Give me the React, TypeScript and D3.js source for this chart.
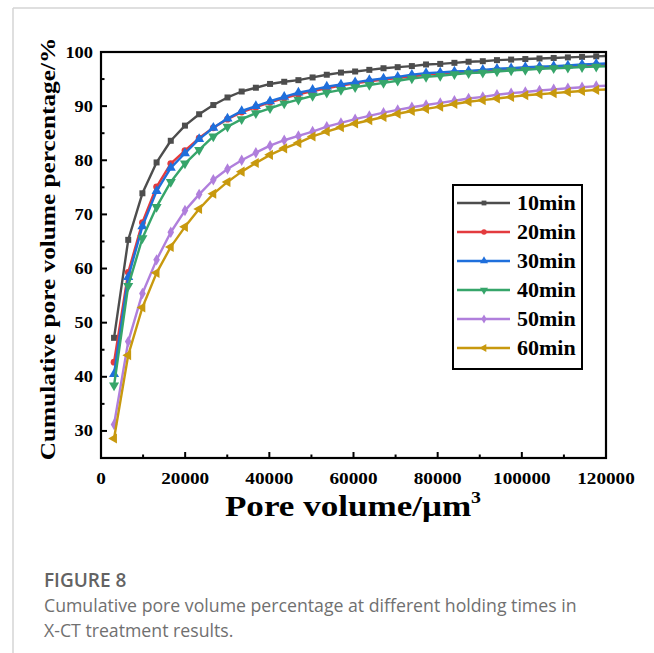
import React from 'react';
import * as d3 from 'd3';

// ---------- data ----------
const poreVolume = [3100, 6470, 9840, 13210, 16580, 19950, 23320, 26690, 30060, 33430, 36800, 40170,
  43540, 46910, 50280, 53650, 57020, 60390, 63760, 67130, 70500, 73870, 77240, 80610, 83980, 87350,
  90720, 94090, 97460, 100830, 104200, 107570, 110940, 114310, 117680, 121050];

const seriesNames = ['10min', '20min', '30min', '40min', '50min', '60min'];

const pct10min = [47.2, 65.3, 73.9, 79.6, 83.6, 86.4, 88.5, 90.2, 91.6, 92.7, 93.4, 94.1, 94.5, 94.8,
  95.3, 95.8, 96.2, 96.4, 96.7, 97.0, 97.2, 97.4, 97.7, 97.8, 98.0, 98.2, 98.3, 98.5, 98.6, 98.7,
  98.8, 98.9, 99.0, 99.1, 99.2, 99.3];
const pct20min = [42.7, 59.3, 68.5, 75.1, 79.4, 81.8, 84.1, 86.0, 87.6, 88.9, 89.8, 90.7, 91.5, 92.2,
  92.8, 93.3, 93.8, 94.2, 94.6, 94.9, 95.2, 95.5, 95.8, 96.0, 96.2, 96.3, 96.5, 96.7, 96.8, 97.0,
  97.1, 97.2, 97.3, 97.5, 97.6, 97.7];
const pct30min = [40.5, 58.4, 67.8, 74.3, 78.6, 81.3, 83.9, 86.0, 87.7, 89.1, 90.0, 90.9, 91.7, 92.5,
  93.0, 93.6, 94.0, 94.4, 94.8, 95.1, 95.4, 95.8, 96.1, 96.2, 96.4, 96.5, 96.7, 96.9, 97.0, 97.2,
  97.3, 97.4, 97.5, 97.7, 97.8, 97.9];
const pct40min = [38.4, 56.8, 65.6, 71.4, 76.0, 79.4, 81.9, 84.4, 86.2, 87.6, 88.7, 89.6, 90.5, 91.2,
  91.9, 92.5, 93.0, 93.5, 93.9, 94.3, 94.7, 95.1, 95.4, 95.6, 95.9, 96.1, 96.2, 96.4, 96.6, 96.7,
  96.9, 97.0, 97.1, 97.2, 97.3, 97.4];
const pct50min = [31.2, 46.5, 55.4, 61.6, 66.7, 70.7, 73.7, 76.4, 78.4, 80.0, 81.4, 82.7, 83.7, 84.5,
  85.3, 86.2, 86.9, 87.6, 88.2, 88.8, 89.3, 89.8, 90.2, 90.6, 91.0, 91.4, 91.7, 92.1, 92.4, 92.6,
  92.9, 93.1, 93.3, 93.5, 93.7, 93.8];
const pct60min = [28.6, 44.0, 52.8, 59.2, 64.0, 67.7, 71.0, 73.8, 76.0, 77.9, 79.5, 81.0, 82.2, 83.2,
  84.4, 85.3, 86.1, 86.8, 87.4, 88.0, 88.6, 89.1, 89.5, 89.9, 90.4, 90.8, 91.1, 91.4, 91.7, 92.0,
  92.2, 92.4, 92.6, 92.8, 93.0, 93.1];

const xTickValues = [0, 20000, 40000, 60000, 80000, 100000, 120000];
const xMinorTicks = [10000, 30000, 50000, 70000, 90000, 110000];
const yTickValues = [30, 40, 50, 60, 70, 80, 90, 100];
const yMinorTicks = [35, 45, 55, 65, 75, 85, 95];

// ---------- styles ----------
const colors = ['#4d4d4d', '#e33b3e', '#1f6fdc', '#36a56a', '#b07fdc', '#c8990e'];
const symbolTypes = [d3.symbolSquare, d3.symbolCircle, d3.symbolTriangle, d3.symbolTriangle, d3.symbolDiamond, d3.symbolTriangle];
const symbolRot = [0, 0, 0, 180, 0, -90];
const symbolSize = [36, 36, 44, 44, 38, 44];

const W = 654, H = 653;
const M = { left: 101, right: 606, top: 52, bottom: 458 };
const SERIF = '"Liberation Serif", "Times New Roman", serif';
const SANS = '"Open Sans", "Noto Sans", sans-serif';

export default function App() {
  const x = d3.scaleLinear().domain([0, 120000]).range([M.left, M.right]);
  const y = d3.scaleLinear().domain([25, 100]).range([M.bottom, M.top]);
  const allSeries = [pct10min, pct20min, pct30min, pct40min, pct50min, pct60min];
  const line = d3.line<number>().x((_, i) => x(poreVolume[i])).y((d) => y(d));

  const sym = (i: number) => d3.symbol().type(symbolTypes[i]).size(symbolSize[i])() as string;

  const legendX = 453, legendY = 185, legendW = 129, legendH = 184;

  return (
    <svg width={W} height={H} style={{ position: 'absolute', left: 0, top: 0, background: '#fff' }}>
      <rect x={0} y={0} width={W} height={H} fill="#fff" />
      {/* card border */}
      <line x1={13} y1={8} x2={W} y2={8} stroke="#d4d4d4" strokeWidth={1.5} />
      <line x1={13} y1={8} x2={13} y2={H} stroke="#d4d4d4" strokeWidth={1.5} />

      <defs>
        <clipPath id="plotClip">
          <rect x={M.left} y={M.top} width={M.right - M.left} height={M.bottom - M.top} />
        </clipPath>
      </defs>

      {/* series */}
      <g clipPath="url(#plotClip)">
        {allSeries.map((s, si) => (
          <g key={si}>
            <path d={line(s) as string} fill="none" stroke={colors[si]} strokeWidth={2.4} strokeLinejoin="round" />
            {s.map((v, i) => (
              <path key={i} d={sym(si)} fill={colors[si]}
                transform={`translate(${x(poreVolume[i])},${y(v)}) rotate(${symbolRot[si]})`} />
            ))}
          </g>
        ))}
      </g>

      {/* frame */}
      <rect x={M.left} y={M.top} width={M.right - M.left} height={M.bottom - M.top} fill="none" stroke="#000" strokeWidth={2.2} />

      {/* x ticks */}
      {xTickValues.map((t) => (
        <g key={'xt' + t}>
          <line x1={x(t)} x2={x(t)} y1={M.bottom} y2={M.bottom - 6} stroke="#000" strokeWidth={2} />
          <text transform={`translate(${x(t)},${484}) scale(1.2,1)`} textAnchor="middle"
            fontFamily={SERIF} fontWeight="bold" fontSize={16} fill="#000">{t}</text>
        </g>
      ))}
      {xMinorTicks.map((t) => (
        <line key={'xm' + t} x1={x(t)} x2={x(t)} y1={M.bottom} y2={M.bottom - 3.5} stroke="#000" strokeWidth={2} />
      ))}
      {/* y ticks */}
      {yTickValues.map((t) => (
        <g key={'yt' + t}>
          <line x1={M.left} x2={M.left + 6} y1={y(t)} y2={y(t)} stroke="#000" strokeWidth={2} />
          <text transform={`translate(${93},${y(t) + 5.5}) scale(1.15,1)`} textAnchor="end"
            fontFamily={SERIF} fontWeight="bold" fontSize={16} fill="#000">{t}</text>
        </g>
      ))}
      {yMinorTicks.map((t) => (
        <line key={'ym' + t} x1={M.left} x2={M.left + 3.5} y1={y(t)} y2={y(t)} stroke="#000" strokeWidth={2} />
      ))}

      {/* axis titles */}
      <text transform={`translate(${353},${516}) scale(1.17,1)`} textAnchor="middle"
        fontFamily={SERIF} fontWeight="bold" fontSize={30} fill="#000">
        Pore volume/μm<tspan fontSize={17} dy={-13}>3</tspan>
      </text>
      <text transform={`translate(${55},${249}) rotate(-90) scale(1.15,1)`} textAnchor="middle"
        fontFamily={SERIF} fontWeight="bold" fontSize={22} fill="#000">
        Cumulative pore volume percentage/%
      </text>

      {/* legend */}
      <rect x={legendX} y={legendY} width={legendW} height={legendH} fill="#fff" stroke="#000" strokeWidth={2} />
      {seriesNames.map((n, i) => {
        const cy = 203 + i * 29;
        return (
          <g key={n}>
            <line x1={457} x2={510} y1={cy} y2={cy} stroke={colors[i]} strokeWidth={2.4} />
            <path d={sym(i)} fill={colors[i]} transform={`translate(484,${cy}) rotate(${symbolRot[i]}) scale(0.8)`} />
            <text transform={`translate(517,${cy + 7}) scale(1.1,1)`} fontFamily={SERIF} fontWeight="bold"
              fontSize={20} fill="#000">{n}</text>
          </g>
        );
      })}

      {/* caption */}
      <text x={44} y={587} fontFamily={SANS} fontWeight={600} fontSize={19} fill="#636363">FIGURE 8</text>
      <text x={44} y={612} fontFamily={SANS} fontSize={17.7} fill="#707070">
        Cumulative pore volume percentage at different holding times in
      </text>
      <text x={44} y={637} fontFamily={SANS} fontSize={17.7} fill="#707070">
        X-CT treatment results.
      </text>
    </svg>
  );
}
